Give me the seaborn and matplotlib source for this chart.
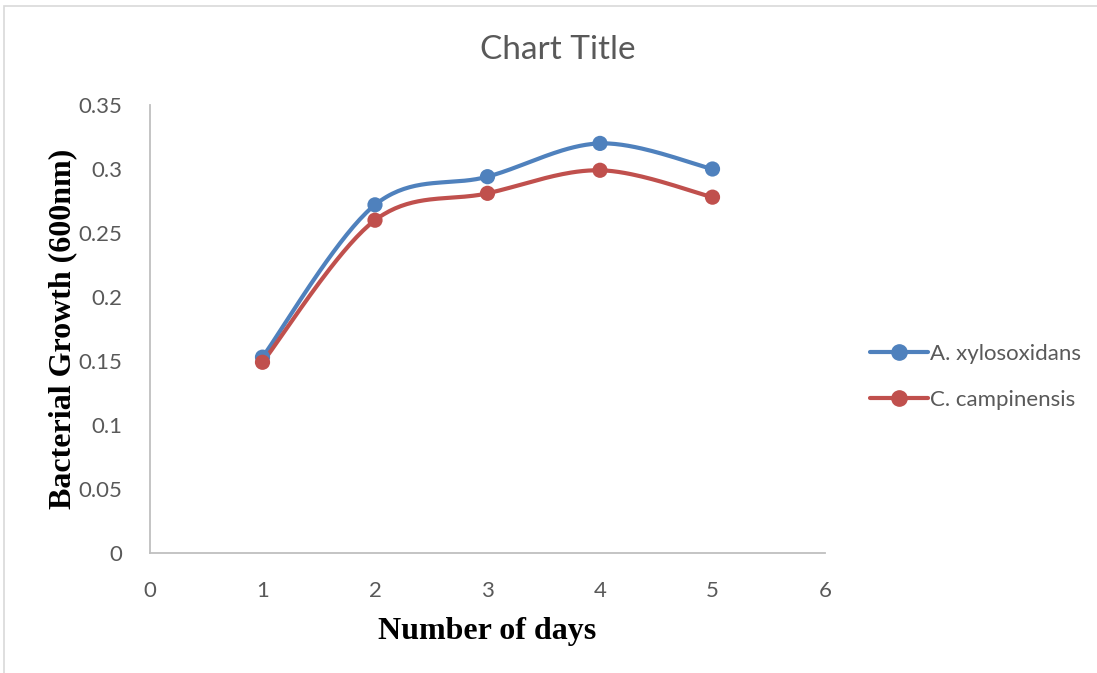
import numpy as np
import pandas as pd
import matplotlib
matplotlib.use("Agg")
import matplotlib.pyplot as plt
from matplotlib.lines import Line2D
from matplotlib.patches import Rectangle
import seaborn as sns

days = [1, 2, 3, 4, 5]
a_xylosoxidans = [0.153, 0.272, 0.294, 0.320, 0.300]
c_campinensis = [0.149, 0.260, 0.281, 0.299, 0.278]
series_names = ["A. xylosoxidans", "C. campinensis"]
series_colors = ["#4F81BD", "#C0504D"]
x_ticks = [0, 1, 2, 3, 4, 5, 6]
y_ticks = [0, 0.05, 0.1, 0.15, 0.2, 0.25, 0.3, 0.35]
y_tick_labels = ["0", "0.05", "0.1", "0.15", "0.2", "0.25", "0.3", "0.35"]


def smooth_curve(xs, ys, n=40):
    """Cubic Bezier smoothing through every point (Catmull-Rom style)."""
    p = np.column_stack([xs, ys]).astype(float)
    ext = np.vstack([p[0], p, p[-1]])
    out = []
    t = np.linspace(0, 1, n)[:, None]
    for i in range(len(p) - 1):
        p0, p3 = ext[i + 1], ext[i + 2]
        c1 = p0 + (ext[i + 2] - ext[i]) / 6.0
        c2 = p3 - (ext[i + 3] - ext[i + 1]) / 6.0
        seg = ((1 - t) ** 3) * p0 + 3 * ((1 - t) ** 2) * t * c1 + 3 * (1 - t) * t ** 2 * c2 + t ** 3 * p3
        out.append(seg if i == 0 else seg[1:])
    out = np.vstack(out)
    return out[:, 0], out[:, 1]


sns.set_theme(style="white")
plt.rcParams["font.family"] = ["Lato", "DejaVu Sans"]

fig = plt.figure(figsize=(10.97, 6.73), dpi=100)
ax = fig.add_axes([150 / 1097, 1 - 553 / 673, 675 / 1097, 448 / 673])

# outer chart border
fig.patches.append(Rectangle((4 / 1097, -0.05), 1.2, 1 - 6 / 673 + 0.05,
                             transform=fig.transFigure, fill=False,
                             edgecolor="#D9D9D9", linewidth=1.2))

for vals, name, color in zip([a_xylosoxidans, c_campinensis], series_names, series_colors):
    sx, sy = smooth_curve(days, vals)
    sns.lineplot(x=sx, y=sy, sort=False, estimator=None, color=color,
                 linewidth=3.0, ax=ax, legend=False)
    sns.scatterplot(x=days, y=vals, color=color, s=120, edgecolor="none",
                    ax=ax, legend=False, zorder=3)

ax.set_xlim(0, 6)
ax.set_ylim(0, 0.35)
ax.set_xticks(x_ticks)
ax.set_yticks(y_ticks)
ax.set_yticklabels(y_tick_labels)
ax.tick_params(axis="both", length=0, labelsize=16, labelcolor="#595959")
ax.tick_params(axis="x", pad=20)
ax.tick_params(axis="y", pad=20)

for side in ["top", "right"]:
    ax.spines[side].set_visible(False)
for side in ["left", "bottom"]:
    ax.spines[side].set_color("#BFBFBF")
    ax.spines[side].set_linewidth(1.3)

ax.set_xlabel("Number of days", fontfamily="Liberation Serif", fontweight="bold",
              fontsize=23, color="black", labelpad=12)
ax.set_ylabel("Bacterial Growth (600nm)", fontfamily="Liberation Serif", fontweight="bold",
              fontsize=23, color="black", labelpad=1)

fig.text(558 / 1097, 1 - 50 / 673, "Chart Title", ha="center", va="center",
         fontsize=24, color="#595959")

handles = [Line2D([0], [0], color=c, linewidth=3.0, marker="o", markersize=11)
           for c in series_colors]
fig.legend(handles, series_names, loc="center left",
           bbox_to_anchor=(850 / 1097, 1 - 377 / 673), frameon=False,
           fontsize=16, labelcolor="#595959", handlelength=2.6,
           handletextpad=0.1, labelspacing=1.15)

fig.savefig("out.png", dpi=100)
